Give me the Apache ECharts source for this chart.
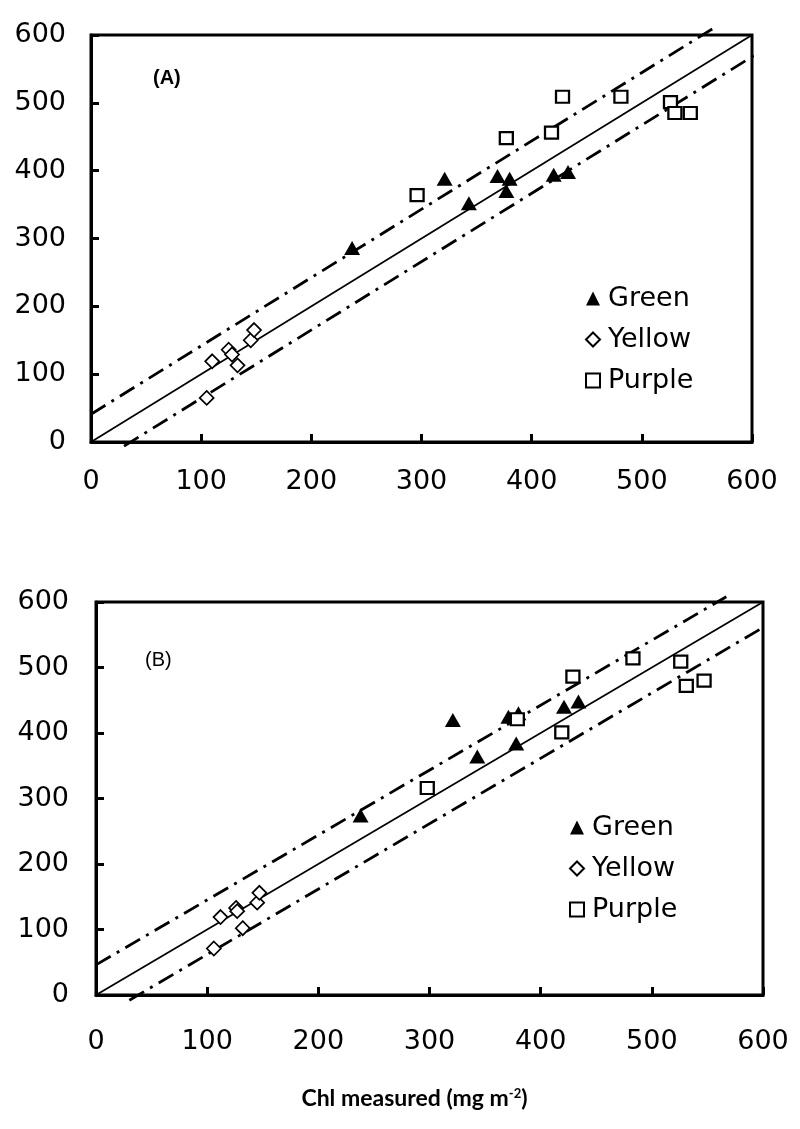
<!DOCTYPE html>
<html>
<head>
<meta charset="utf-8">
<script src="https://cdn.jsdelivr.net/npm/echarts@6/dist/echarts.min.js"></script>
<style>
  html, body { margin: 0; padding: 0; background: #fff; }
  #chart { width: 800px; height: 1129px; }
</style>
</head>
<body>
<div id="chart"></div>
<script>
// tick values shared by both axes of both panels
const axisMin = 0;
const axisMax = 600;
const axisStep = 100;

// panel A: [measured, predicted]
const greenA = [[237, 286], [321, 388], [343, 352], [369, 392], [380, 388], [377, 370], [420, 394], [433, 398]];
const yellowA = [[110, 119], [125, 136], [128, 129], [133, 113], [145, 150], [148, 165], [105, 65]];
const purpleA = [[296, 364], [377, 448], [418, 456], [428, 509], [481, 509], [526, 501], [530, 485], [544, 485]];

// panel B: [measured, predicted]
const greenB = [[238, 274], [321, 420], [343, 364], [371, 425], [380, 430], [378, 384], [421, 440], [434, 448]];
const yellowB = [[112, 119], [126, 133], [127, 128], [132, 102], [145, 141], [147, 156], [106, 71]];
const purpleB = [[298, 316], [379, 421], [419, 401], [429, 486], [483, 514], [526, 509], [531, 472], [547, 480]];

// 1:1 line and the dash-dot bounds (end points)
const oneToOne = [[0, 0], [600, 600]];
const upperA = [[0, 41], [565, 610]];
const lowerA = [[30, -6], [607, 575]];
const upperB = [[0, 46], [567, 608]];
const lowerB = [[30, -8], [604, 565]];

const legendNames = ['Green', 'Yellow', 'Purple'];

const chart = echarts.init(document.getElementById('chart'));

const font = 'DejaVu Sans, Liberation Sans, Arial, sans-serif';
const labelSize = 27;
const dashDot = [17, 7, 3, 7];

function makeXAxis(gridIndex, margin, extra) {
  return Object.assign({
    type: 'value',
    gridIndex: gridIndex,
    min: axisMin,
    max: axisMax,
    interval: axisStep,
    axisLine: { show: true, lineStyle: { color: '#000', width: 3 } },
    axisTick: { show: true, inside: true, length: 8, lineStyle: { color: '#000', width: 3 } },
    axisLabel: { color: '#000', fontSize: labelSize, fontFamily: font, margin: margin },
    splitLine: { show: false }
  }, extra || {});
}

function makeYAxis(gridIndex, margin) {
  return {
    type: 'value',
    gridIndex: gridIndex,
    min: axisMin,
    max: axisMax,
    interval: axisStep,
    axisLine: { show: true, lineStyle: { color: '#000', width: 3 } },
    axisTick: { show: true, inside: true, length: 8, lineStyle: { color: '#000', width: 3 } },
    axisLabel: { color: '#000', fontSize: labelSize, fontFamily: font, margin: margin },
    splitLine: { show: false }
  };
}

function scatter(name, data, idx, kind) {
  const s = {
    name: name,
    type: 'scatter',
    xAxisIndex: idx,
    yAxisIndex: idx,
    data: data,
    z: 5,
    clip: false
  };
  if (kind === 'triangle') {
    s.symbol = 'triangle';
    s.symbolSize = [16, 14];
    s.itemStyle = { color: '#000', opacity: 1 };
  } else if (kind === 'diamond') {
    s.symbol = 'diamond';
    s.symbolSize = [14, 14];
    s.itemStyle = { color: '#fff', borderColor: '#000', borderWidth: 1.7, opacity: 1 };
  } else {
    s.symbol = 'rect';
    s.symbolSize = [13, 12];
    s.itemStyle = { color: '#fff', borderColor: '#000', borderWidth: 2.2, opacity: 1 };
  }
  return s;
}

function refLine(data, idx, dashed) {
  return {
    type: 'line',
    xAxisIndex: idx,
    yAxisIndex: idx,
    data: data,
    symbol: 'none',
    clip: false,
    silent: true,
    z: 2,
    lineStyle: dashed
      ? { color: '#000', width: 2.8, type: dashDot }
      : { color: '#000', width: 1.7, type: 'solid' }
  };
}

function legendAt(left, top) {
  return {
    data: legendNames,
    orient: 'vertical',
    left: left,
    top: top,
    itemWidth: 14,
    itemHeight: 14,
    itemGap: 14,
    selectedMode: false,
    textStyle: { color: '#000', fontSize: labelSize, fontFamily: font, padding: [0, 0, 0, 3] }
  };
}

const option = {
  backgroundColor: '#fff',
  animation: false,
  title: [
    { text: '(A)', left: 148, top: 63, textStyle: { fontSize: 20, fontWeight: 'bold', fontFamily: 'Liberation Sans, Arial, sans-serif', color: '#000' } },
    { text: '(B)', left: 140, top: 645, textStyle: { fontSize: 20, fontWeight: 'normal', fontFamily: 'Liberation Sans, Arial, sans-serif', color: '#000' } }
  ],
  legend: [legendAt(580, 280), legendAt(564, 809)],
  grid: [
    { left: 91, top: 35, width: 661, height: 407, show: true, borderColor: '#000', borderWidth: 3, outerBoundsMode: 'none' },
    { left: 96, top: 602, width: 667, height: 393, show: true, borderColor: '#000', borderWidth: 3, outerBoundsMode: 'none' }
  ],
  xAxis: [
    makeXAxis(0, 26),
    makeXAxis(1, 33, {
      name: '{t|Chl measured (mg m}{s|-2}{t|)}',
      nameLocation: 'middle',
      nameGap: 92,
      nameTextStyle: {
        padding: [0, 30, 0, 0],
        rich: {
          t: { fontSize: 23, fontWeight: 'bold', fontFamily: 'Lato, Open Sans, sans-serif', color: '#000' },
          s: { fontSize: 13, fontWeight: 'bold', fontFamily: 'Lato, Open Sans, sans-serif', color: '#000', verticalAlign: 'top', padding: [0, 0, 10, 0] }
        }
      }
    })
  ],
  yAxis: [makeYAxis(0, 25), makeYAxis(1, 27)],
  series: [
    refLine(oneToOne, 0, false),
    refLine(upperA, 0, true),
    refLine(lowerA, 0, true),
    scatter('Green', greenA, 0, 'triangle'),
    scatter('Yellow', yellowA, 0, 'diamond'),
    scatter('Purple', purpleA, 0, 'rect'),
    refLine(oneToOne, 1, false),
    refLine(upperB, 1, true),
    refLine(lowerB, 1, true),
    scatter('Green', greenB, 1, 'triangle'),
    scatter('Yellow', yellowB, 1, 'diamond'),
    scatter('Purple', purpleB, 1, 'rect')
  ]
};

chart.setOption(option);
</script>
</body>
</html>
